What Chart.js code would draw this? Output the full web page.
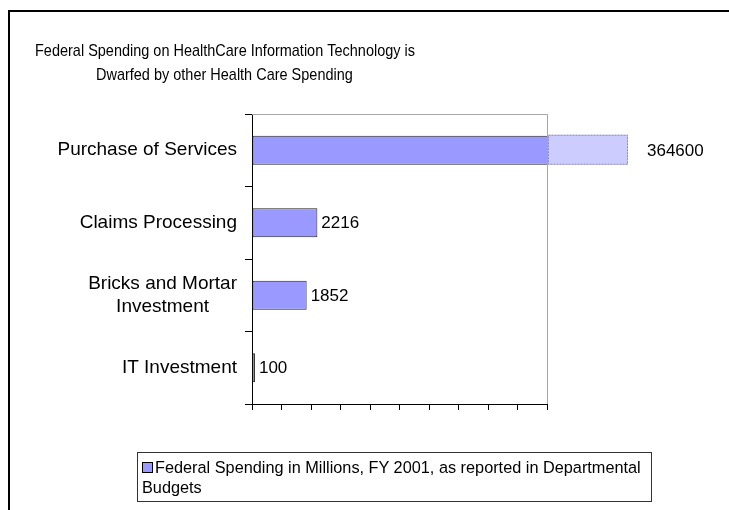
<!DOCTYPE html>
<html>
<head>
<meta charset="utf-8">
<script src="https://cdn.jsdelivr.net/npm/chart.js@4/dist/chart.umd.min.js"></script>
<style>
    html, body {
        margin: 0;
        padding: 0;
        width: 729px;
        height: 510px;
        overflow: hidden;
        background: #fff;
        font-family: "Liberation Sans", Arial, sans-serif;
    }
    #frame {
        position: absolute;
        left: 8px;
        top: 10px;
        width: 760px;
        height: 560px;
        border: 2px solid #000;
    }
    #wrap {
        position: absolute;
        left: 0;
        top: 0;
        width: 729px;
        height: 510px;
    }
    #legend {
        position: absolute;
        left: 137px;
        top: 452px;
        width: 506px;
        height: 43px;
        padding: 4px 3px 1px 4px;
        border: 1px solid #333;
        font-size: 16.3px;
        line-height: 20px;
        color: #000;
    }
    #legend .swatch {
        display: inline-block;
        width: 9px;
        height: 9px;
        background: #9999ff;
        border: 1px solid #000;
        margin-right: 2px;
        vertical-align: 0px;
    }
</style>
</head>
<body>
<div id="frame"></div>
<div id="wrap"><canvas id="chart" width="729" height="510"></canvas></div>
<div id="legend"></div>
<script>
const titleLines = [
    "Federal Spending on HealthCare Information Technology is",
    "Dwarfed by other Health Care Spending",
];
const categories = [
    "Purchase of Services",
    "Claims Processing",
    ["Bricks and Mortar", "Investment"],
    "IT Investment",
];
const spending = [364600, 2216, 1852, 100];
const seriesLabel = "Federal Spending in Millions, FY 2001, as reported in Departmental Budgets";
const axisMax = 10000;
const axisStep = 1000;

const FONT = '"Liberation Sans", Arial, sans-serif';
const breakWidth = 80;

document.getElementById("legend").innerHTML =
    `<span class="swatch"></span>${seriesLabel}`;

// gray frame on top/right of the plot, like the old office chart
const plotFrame = {
    id: "plotFrame",
    beforeDatasetsDraw(chart) {
        const { ctx, chartArea: a } = chart;
        ctx.save();
        ctx.strokeStyle = "#a6a6a6";
        ctx.lineWidth = 1;
        ctx.beginPath();
        ctx.moveTo(a.left, a.top + 0.5);
        ctx.lineTo(a.right + 0.5, a.top + 0.5);
        ctx.lineTo(a.right + 0.5, a.bottom);
        ctx.stroke();
        ctx.restore();
    },
};

// bars that run off the scale get a pale "broken" tail, then the value labels
const barLabels = {
    id: "barLabels",
    afterDatasetsDraw(chart) {
        const { ctx, chartArea: a } = chart;
        const meta = chart.getDatasetMeta(0);
        ctx.save();
        ctx.font = `17px ${FONT}`;
        ctx.fillStyle = "#000";
        ctx.textBaseline = "middle";
        ctx.textAlign = "left";
        meta.data.forEach((bar, i) => {
            let x = bar.x + 4;
            if (bar.x > a.right) {
                const top = bar.y - bar.height / 2 - 1;
                ctx.fillStyle = "#ccccff";
                ctx.fillRect(a.right + 1, top, breakWidth, bar.height + 1);
                ctx.strokeStyle = "#8c8cb8";
                ctx.setLineDash([2, 1]);
                ctx.strokeRect(a.right + 1.5, top + 0.5, breakWidth - 1, bar.height);
                ctx.setLineDash([]);
                ctx.fillStyle = "#000";
                x = a.right + breakWidth + 20;
            }
            ctx.fillText(String(spending[i]), x, bar.y + 1);
        });
        ctx.restore();
    },
    afterDraw(chart) {
        const { ctx, chartArea: a } = chart;
        const yScale = chart.scales.y;
        ctx.save();
        ctx.fillStyle = "#000";
        ctx.textBaseline = "middle";
        // category labels
        ctx.font = `19px ${FONT}`;
        const labelRight = a.left - 15;
        categories.forEach((cat, i) => {
            const y = yScale.getPixelForValue(i);
            if (Array.isArray(cat)) {
                const w = Math.max(...cat.map((s) => ctx.measureText(s).width));
                ctx.textAlign = "center";
                const lh = 23;
                cat.forEach((s, j) => {
                    ctx.fillText(s, labelRight - w / 2, y + (j - (cat.length - 1) / 2) * lh);
                });
            } else {
                ctx.textAlign = "right";
                ctx.fillText(cat, labelRight, y);
            }
        });
        // title, a bit condensed
        ctx.font = `17px ${FONT}`;
        ctx.textAlign = "left";
        const squeeze = 380 / ctx.measureText(titleLines[0]).width;
        ctx.save();
        ctx.translate(35, 51);
        ctx.scale(squeeze, 1);
        ctx.fillText(titleLines[0], 0, 0);
        ctx.restore();
        ctx.save();
        ctx.translate(96, 75);
        ctx.scale(squeeze, 1);
        ctx.fillText(titleLines[1], 0, 0);
        ctx.restore();
        ctx.restore();
    },
};

new Chart(document.getElementById("chart").getContext("2d"), {
    type: "bar",
    data: {
        labels: categories,
        datasets: [
            {
                label: seriesLabel,
                data: spending,
                backgroundColor: "#9999ff",
                borderColor: "#222",
                borderWidth: 1,
                borderSkipped: false,
                barPercentage: 0.4,
                categoryPercentage: 1,
                clip: 0,
            },
        ],
    },
    options: {
        indexAxis: "y",
        responsive: false,
        animation: false,
        layout: {
            padding: { left: 245, right: 182, top: 114, bottom: 100 },
        },
        plugins: {
            legend: { display: false },
            title: { display: false },
            tooltip: { enabled: false },
        },
        scales: {
            x: {
                min: 0,
                max: axisMax,
                ticks: { display: false, stepSize: axisStep },
                grid: {
                    drawOnChartArea: false,
                    drawTicks: true,
                    tickLength: 6,
                    color: "#000",
                },
                border: { color: "#000", width: 1 },
            },
            y: {
                ticks: { display: false },
                grid: {
                    drawOnChartArea: false,
                    drawTicks: true,
                    tickLength: 7,
                    color: "#000",
                    offset: true,
                },
                border: { color: "#000", width: 1 },
            },
        },
    },
    plugins: [plotFrame, barLabels],
});
</script>
</body>
</html>
